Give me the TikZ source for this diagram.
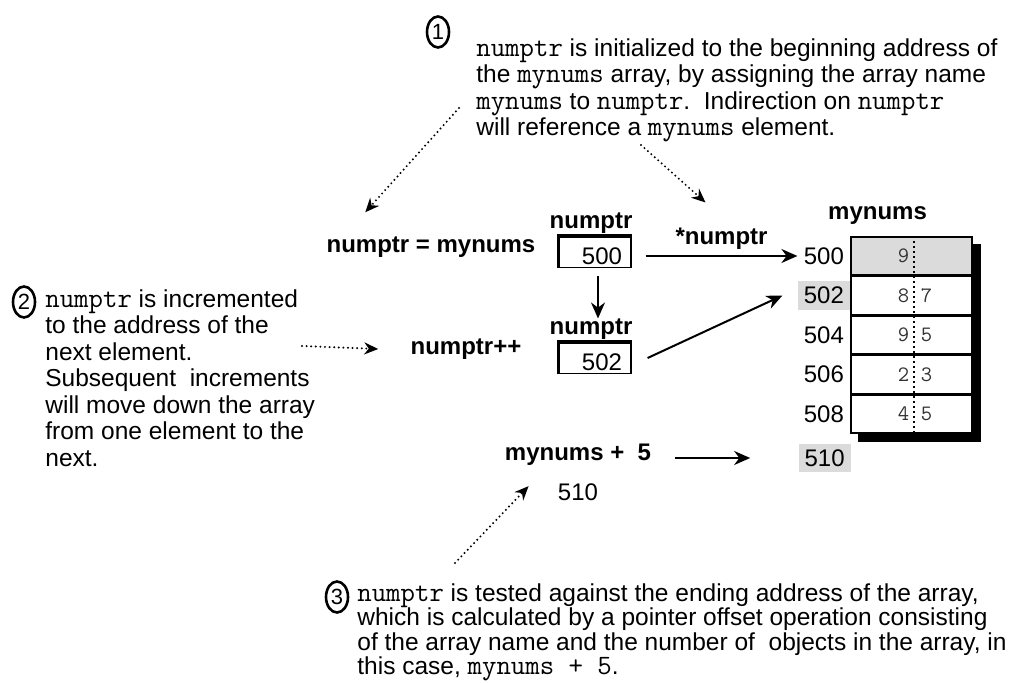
\documentclass[tikz,border=0pt]{standalone}
\usepackage{fontspec}
\setmainfont{Liberation Sans}
\usepackage{tikz}
\usetikzlibrary{arrows.meta,positioning,shapes.geometric,backgrounds}

\newcommand{\code}[1]{{\ttfamily\fontsize{14}{13}\selectfont #1}}

\begin{document}
\begin{tikzpicture}
	[x=0.5pt,y=-0.5pt,
	note/.style={anchor=north west,align=left,inner sep=0pt,font=\fontsize{12.25}{13.25}\selectfont},
	numcirc/.style={ellipse,draw,line width=1.3pt,minimum width=11pt,minimum height=15.5pt,inner sep=0pt,font=\fontsize{11}{11}\selectfont},
	boldlab/.style={inner sep=0pt,font=\fontsize{12}{13}\selectfont\bfseries},
	addr/.style={inner xsep=3pt,inner ysep=3pt,font=\fontsize{12}{13}\selectfont},
	addrhl/.style={addr,fill=gray!28},
	cell/.style={draw,line width=0.75pt,fill=white,minimum width=60.5pt,minimum height=19pt,inner sep=0pt},
	digit/.style={inner sep=0pt,text=black!80,font=\ttfamily\fontsize{11}{11}\selectfont},
	ptrbox/.style={draw,line width=0.6pt,minimum width=36pt,minimum height=15.5pt,inner sep=0pt,
		text width=27pt,align=right,text height=12.4pt,text depth=0pt,font=\fontsize{12}{13}\selectfont},
	arr/.style={line width=1pt,-{Stealth[length=8pt,width=7pt]}},
	dotarr/.style={line width=1.1pt,line cap=round,dash pattern=on 0pt off 2.3pt,-{Stealth[length=7pt,width=6pt]}},
	divider/.style={line width=1pt,dash pattern=on 1pt off 1.5pt},
	]
	\useasboundingbox (0,0) rectangle (1010,683);

	% notes
	\node[numcirc] (n1) at (438,32) {1};
	\node[note] (t1) at (476,38) {\code{numptr} is initialized to the beginning address of\\
		the \code{mynums} array, by assigning the array name\\
		\code{mynums} to \code{numptr}.\ \ Indirection on \code{numptr}\\
		will reference a \code{mynums} element.};
	\node[numcirc] (n2) at (24,302) {2};
	\node[note] (t2) at (45,289) {\code{numptr} is incremented\\
		to the address of the\\
		next element.\\
		Subsequent\ \ increments\\
		will move down the array\\
		from one element to the\\
		next.};
	\node[numcirc] (n3) at (337,597) {3};
	\node[note,font=\fontsize{12.25}{12.25}\selectfont] (t3) at (357,583) {\code{numptr} is tested against the ending address of the array,\\
		which is calculated by a pointer offset operation consisting\\
		of the array name and the number of\ \ objects in the array, in\\
		this case, \code{mynums + 5}.};

	% the mynums array
	\node[cell,fill=gray!28] (m0) at (911.5,256) {};
	\foreach \i/\p in {1/0,2/1,3/2,4/3}
		\node[cell,below=0pt of m\p] (m\i) {};
	\begin{pgfonlayer}{background}
		\fill ([shift={(8,8)}]m0.north west) rectangle ([shift={(8,8)}]m4.south east);
	\end{pgfonlayer}
	\draw[divider] ([xshift=1pt]m0.north) -- ([xshift=1pt]m4.south);
	\foreach \i/\a/\l/\r/\s in {0/500/9//addr,1/502/8/7/addrhl,2/504/9/5/addr,3/506/2/3/addr,4/508/4/5/addr}
	{
		\node[digit] at ([xshift=-4pt]m\i.center) {\l};
		\node[digit] at ([xshift=7.5pt]m\i.center) {\r};
		\node[\s,left=0pt of m\i] (a\i) {\a};
	}
	\node[boldlab,above=5.5pt of m0,xshift=-17pt] (arrname) {mynums};
	\node[addrhl,anchor=east] (a5) at (851,458) {510};

	% pointer boxes
	\node[ptrbox,label={[boldlab,name=p1lab,label distance=1pt,xshift=-2pt]above:numptr}] (p1) at (595,252) {500};
	\node[ptrbox,label={[boldlab,name=p2lab,label distance=1pt,xshift=-2pt]above:numptr}] (p2) at (595,358) {502};
	\foreach \b in {p1,p2}
		\draw[line width=1.7pt] (\b.south west) -- (\b.north west) -- (\b.north east);

	\node[boldlab] (assign) at (431,247) {numptr = mynums};
	\node[boldlab] (inc) at (466,349) {numptr++};
	\node[boldlab] (plus) at (578,455) {mynums +\ \ 5};
	\node[addr] (sum) at (578,492) {510};

	% connectors
	\draw[arr] ([xshift=7pt]p1.east |- a0.west) -- node[boldlab,above=3pt] (star) {*numptr} (a0.west);
	\draw[arr] ([xshift=1.5pt,yshift=-4pt]p1.south) -- ([xshift=1.5pt]p1.south |- p2lab.north);
	\draw[arr] ([xshift=8pt]p2.east) -- ([xshift=-7.5pt]a1.west);
	\draw[arr] ([xshift=12pt]plus.east |- a5.west) -- ([xshift=-24pt]a5.west);

	\coordinate (d1) at (459,108);
	\coordinate (d2) at (641,145);
	\coordinate (d3) at (302,346);
	\coordinate (d4) at (455,563);
	\draw[dotarr] (d1) -- ([shift={(39,-24)}]assign.north west);
	\draw[dotarr] (d2) -- ([shift={(-16,-24)}]star.north);
	\draw[dotarr] (d3) -- ([xshift=-16pt]inc.west);
	\draw[dotarr] (d4) -- ([shift={(24,20)}]plus.south west);
\end{tikzpicture}
\end{document}
